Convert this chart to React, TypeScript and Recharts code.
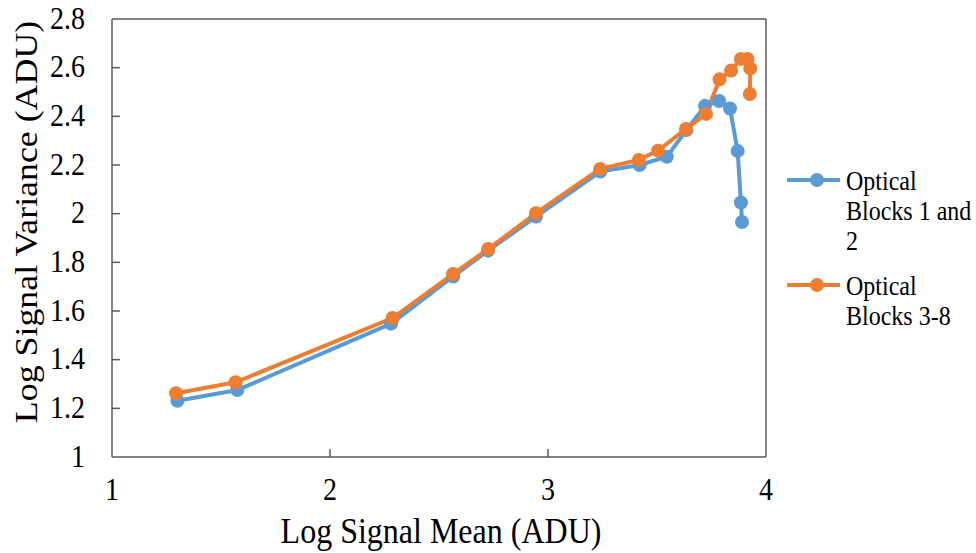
import React from "react";
import { LineChart, Line, XAxis, YAxis, ReferenceLine } from "recharts";

const blueX = [1.3, 1.575, 2.28, 2.565, 2.725, 2.945, 3.24, 3.42, 3.545, 3.635, 3.72, 3.785, 3.835, 3.87, 3.885, 3.89];
const blueY = [1.231, 1.275, 1.548, 1.742, 1.848, 1.988, 2.173, 2.2, 2.234, 2.344, 2.443, 2.463, 2.432, 2.258, 2.046, 1.966];
const orangeX = [1.294, 1.567, 2.287, 2.564, 2.726, 2.945, 3.239, 3.417, 3.505, 3.633, 3.725, 3.787, 3.84, 3.885, 3.915, 3.928, 3.926];
const orangeY = [1.262, 1.307, 1.571, 1.752, 1.855, 2.002, 2.184, 2.221, 2.259, 2.348, 2.41, 2.552, 2.588, 2.636, 2.636, 2.597, 2.492];

const xTicks = [1, 2, 3, 4];
const yTicks = [1, 1.2, 1.4, 1.6, 1.8, 2, 2.2, 2.4, 2.6, 2.8];

const seriesNames = ["Optical Blocks 1 and 2", "Optical Blocks 3-8"];
const colors = ["#5B9BD5", "#ED7D31"];

const blueData = blueX.map((x, i) => ({ x, y: blueY[i] }));
const orangeData = orangeX.map((x, i) => ({ x, y: orangeY[i] }));

const FONT = "'Liberation Serif', 'Times New Roman', serif";
const AXIS = "#595959";
const S = 1.12;

const XTick = (props: any) => {
  const { x, y, payload } = props;
  const inner = payload.value !== 1 && payload.value !== 4;
  return (
    <g>
      {inner && <line x1={x} y1={y} x2={x} y2={y - 8} stroke={AXIS} strokeWidth={1.5} />}
      <text
        transform={`translate(${x},${y + 43}) scale(1,${S})`}
        x={0}
        y={0}
        textAnchor="middle"
        fontFamily={FONT}
        fontSize={28}
        fill="#000"
      >
        {String(payload.value)}
      </text>
    </g>
  );
};

const YTick = (props: any) => {
  const { x, y, payload } = props;
  const inner = payload.value !== 1 && payload.value !== 2.8;
  return (
    <g>
      {inner && <line x1={x} y1={y} x2={x + 8} y2={y} stroke={AXIS} strokeWidth={1.5} />}
      <text
        transform={`translate(${x - 27},${y + 9.5}) scale(1,${S})`}
        x={0}
        y={0}
        textAnchor="end"
        fontFamily={FONT}
        fontSize={28}
        fill="#000"
      >
        {String(payload.value)}
      </text>
    </g>
  );
};

const LegendBox = () => (
  <div
    style={{
      position: "absolute",
      left: 787,
      top: 166,
      fontFamily: FONT,
      fontSize: 24,
      lineHeight: "27px",
      color: "#000",
    }}
  >
    {seriesNames.map((name, i) => (
      <div key={name} style={{ display: "flex", alignItems: "flex-start", marginBottom: 24 }}>
        <svg width={59} height={27} style={{ flex: "none" }}>
          <line x1={0} y1={14} x2={53} y2={14} stroke={colors[i]} strokeWidth={4} />
          <circle cx={30} cy={14} r={7} fill={colors[i]} />
        </svg>
        <div style={{ width: 128, transform: `scale(1,${S})`, transformOrigin: "0 0" }}>{name}</div>
      </div>
    ))}
  </div>
);

export default function App() {
  return (
    <div style={{ position: "absolute", left: 0, top: 0, width: 976, height: 553, background: "#fff" }}>
      <LineChart width={976} height={553} margin={{ top: 19, right: 210, bottom: 0, left: 0 }}>
        <XAxis
          dataKey="x"
          type="number"
          domain={[1, 4]}
          ticks={xTicks}
          allowDataOverflow
          tickSize={0}
          tickMargin={0}
          height={96}
          stroke={AXIS}
          strokeWidth={1.5}
          tick={<XTick />}
          label={{
            content: () => (
              <text
                transform={`translate(441,543) scale(1,${S})`}
                x={0}
                y={0}
                textAnchor="middle"
                fontFamily={FONT}
                fontSize={32}
                fill="#000"
              >
                Log Signal Mean (ADU)
              </text>
            ),
          }}
        />
        <YAxis
          dataKey="y"
          type="number"
          domain={[1, 2.8]}
          ticks={yTicks}
          allowDataOverflow
          tickSize={0}
          tickMargin={0}
          width={112}
          stroke={AXIS}
          strokeWidth={1.5}
          tick={<YTick />}
          label={{
            content: () => (
              <text
                transform={`translate(26,222) scale(1,${S}) rotate(-90)`}
                x={0}
                y={0}
                textAnchor="middle"
                dominantBaseline="central"
                fontFamily={FONT}
                fontSize={32}
                fill="#000"
              >
                Log Signal Variance (ADU)
              </text>
            ),
          }}
        />
        <ReferenceLine y={2.8} stroke={AXIS} strokeWidth={1.5} />
        <ReferenceLine x={4} stroke={AXIS} strokeWidth={1.5} />
        <Line
          data={blueData}
          dataKey="y"
          name={seriesNames[0]}
          stroke={colors[0]}
          strokeWidth={4}
          dot={{ r: 7, fill: colors[0], stroke: "none" }}
          isAnimationActive={false}
        />
        <Line
          data={orangeData}
          dataKey="y"
          name={seriesNames[1]}
          stroke={colors[1]}
          strokeWidth={4}
          dot={{ r: 7, fill: colors[1], stroke: "none" }}
          isAnimationActive={false}
        />
      </LineChart>
      <LegendBox />
    </div>
  );
}
